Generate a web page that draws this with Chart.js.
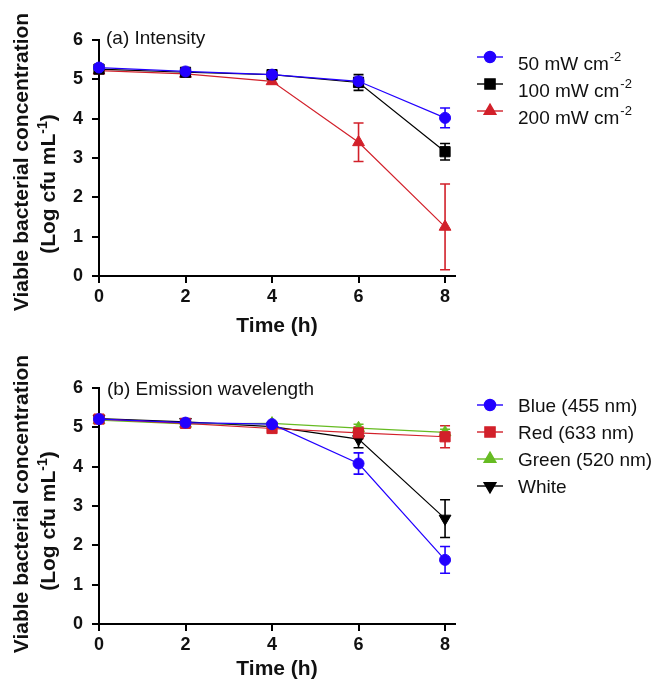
<!DOCTYPE html>
<html>
<head>
<meta charset="utf-8">
<script src="https://cdn.jsdelivr.net/npm/chart.js@4.4.1/dist/chart.umd.min.js"></script>
<style>
  html, body { margin: 0; padding: 0; background: #fff; }
  #wrap { position: relative; width: 658px; height: 680px; }
  canvas { position: absolute; left: 0; }
</style>
</head>
<body>
<div id="wrap">
  <canvas id="cA" width="658" height="348" style="top:0px"></canvas>
  <canvas id="cB" width="658" height="332" style="top:348px"></canvas>
</div>
<script>
// ---------------- DATA ----------------
const timeH = [0, 2, 4, 6, 8];
const xTickValues = [0, 2, 4, 6, 8];
const yTickValues = [0, 1, 2, 3, 4, 5, 6];

// Panel (a) Intensity
const intensityNames = ['50 mW cm', '100 mW cm', '200 mW cm'];
const intensitySup = '-2';
const int50 = [5.30, 5.20, 5.12, 4.95, 4.02];
const int50Err = [0.05, 0.04, 0.04, 0.10, 0.25];
const int100 = [5.26, 5.18, 5.12, 4.92, 3.16];
const int100Err = [0.05, 0.05, 0.05, 0.20, 0.21];
const int200 = [5.22, 5.14, 4.95, 3.40, 1.25];
const int200Err = [0.04, 0.05, 0.06, 0.49, 1.09];

// Panel (b) Emission wavelength
const waveNames = ['Blue (455 nm)', 'Red (633 nm)', 'Green (520 nm)', 'White'];
const waveBlue = [5.21, 5.12, 5.08, 4.08, 1.63];
const waveBlueErr = [0.05, 0.05, 0.05, 0.27, 0.34];
const waveRed = [5.21, 5.10, 4.97, 4.86, 4.76];
const waveRedErr = [0.05, 0.05, 0.07, 0.15, 0.28];
const waveGreen = [5.18, 5.09, 5.10, 4.98, 4.87];
const waveGreenErr = [0.04, 0.04, 0.04, 0.10, 0.08];
const waveWhite = [5.22, 5.14, 5.02, 4.70, 2.68];
const waveWhiteErr = [0.04, 0.04, 0.05, 0.22, 0.48];

// ---------------- STYLE ----------------
const FONT = "'Liberation Sans', Arial, Helvetica, sans-serif";
const BLUE = '#2200ff', BLACK = '#000000', RED = '#d2202a', GREEN = '#66bb22';

function ds(label, data, err, color, style, radius, rotation) {
  return {
    label, data: data.map((v, i) => ({ x: timeH[i], y: v })), err,
    borderColor: color, backgroundColor: color, borderWidth: 1.2,
    pointStyle: style, pointRadius: radius, pointRotation: rotation || 0,
    pointBorderWidth: 1, pointBackgroundColor: color, pointBorderColor: color,
    pointHoverRadius: radius, clip: false, tension: 0
  };
}

const decorPlugin = {
  id: 'decor',
  beforeDatasetsDraw(chart) {
    const ctx = chart.ctx, xs = chart.scales.x, ys = chart.scales.y;
    chart.data.datasets.forEach(d => {
      ctx.save();
      ctx.strokeStyle = d.borderColor; ctx.lineWidth = 1.6;
      d.data.forEach((p, j) => {
        const e = d.err[j];
        const x = xs.getPixelForValue(p.x);
        const yt = ys.getPixelForValue(p.y + e), yb = ys.getPixelForValue(p.y - e);
        ctx.beginPath();
        ctx.moveTo(x, yt); ctx.lineTo(x, yb);
        ctx.moveTo(x - 5, yt); ctx.lineTo(x + 5, yt);
        ctx.moveTo(x - 5, yb); ctx.lineTo(x + 5, yb);
        ctx.stroke();
      });
      ctx.restore();
    });
  },
  afterDraw(chart) {
    const o = chart.options.plugins.decor, ctx = chart.ctx, ca = chart.chartArea;
    ctx.save();
    ctx.fillStyle = '#111';
    // panel title
    ctx.font = '19px ' + FONT; ctx.textAlign = 'left'; ctx.textBaseline = 'alphabetic';
    ctx.fillText(o.title, o.titleX, o.titleY);
    // x title
    ctx.font = 'bold 21px ' + FONT; ctx.textAlign = 'center';
    ctx.fillText('Time (h)', (ca.left + ca.right) / 2, o.xTitleY);
    // y title, two lines
    ctx.save();
    ctx.translate(28, o.yLine1C); ctx.rotate(-Math.PI / 2);
    ctx.textAlign = 'center';
    ctx.fillText('Viable bacterial concentration', 0, 0);
    ctx.restore();
    ctx.save();
    ctx.translate(55, o.yLine2C); ctx.rotate(-Math.PI / 2);
    ctx.textAlign = 'left';
    const big = 'bold 21px ' + FONT, small = 'bold 14px ' + FONT;
    ctx.font = big; const w1 = ctx.measureText('(Log cfu mL').width;
    ctx.font = small; const w2 = ctx.measureText('-1').width;
    ctx.font = big; const w3 = ctx.measureText(')').width;
    let sx = -(w1 + w2 + w3) / 2;
    ctx.font = big; ctx.fillText('(Log cfu mL', sx, 0); sx += w1;
    ctx.font = small; ctx.fillText('-1', sx, -8); sx += w2;
    ctx.font = big; ctx.fillText(')', sx, 0);
    ctx.restore();
    // legend
    o.legend.forEach((it, k) => {
      const y = o.legendY[k];
      ctx.strokeStyle = it.color; ctx.fillStyle = it.color; ctx.lineWidth = 1.4;
      ctx.beginPath(); ctx.moveTo(477, y); ctx.lineTo(503, y); ctx.stroke();
      Chart.helpers.drawPoint(ctx, { pointStyle: it.style, radius: it.radius, rotation: it.rotation || 0, borderWidth: 1 }, 490, y);
      ctx.fillStyle = '#111'; ctx.textAlign = 'left';
      ctx.font = '19px ' + FONT;
      const ty = y + o.legendTextOff;
      ctx.fillText(it.text, 518, ty);
      if (it.sup) {
        const tw = ctx.measureText(it.text).width;
        ctx.font = '13px ' + FONT;
        ctx.fillText(it.sup, 518 + tw + 1, ty - 9);
      }
    });
    ctx.restore();
  }
};

function makePanel(id, datasets, canvasH, decor) {
  return new Chart(document.getElementById(id), {
    type: 'line',
    data: { datasets },
    options: {
      responsive: false, animation: false, events: [],
      layout: { padding: { left: 0, right: 203, top: 40, bottom: 0 } },
      plugins: { legend: { display: false }, tooltip: { enabled: false }, decor },
      scales: {
        x: {
          type: 'linear', min: 0, max: 8.23,
          afterFit: s => { s.height = canvasH - 276; },
          afterBuildTicks: s => { s.ticks = xTickValues.map(v => ({ value: v })); },
          grid: { display: true, drawOnChartArea: false, drawTicks: true, tickLength: 7, color: '#000', lineWidth: 2 },
          border: { display: true, color: '#000', width: 2 },
          ticks: { color: '#111', font: { family: FONT, size: 18, weight: 'bold' }, padding: 3, maxRotation: 0, autoSkip: false, callback: v => String(v) }
        },
        y: {
          type: 'linear', min: 0, max: 6,
          afterFit: s => { s.width = 99; },
          afterBuildTicks: s => { s.ticks = yTickValues.map(v => ({ value: v })); },
          grid: { display: true, drawOnChartArea: false, drawTicks: true, tickLength: 7, color: '#000', lineWidth: 2 },
          border: { display: true, color: '#000', width: 2 },
          ticks: { color: '#111', font: { family: FONT, size: 18, weight: 'bold' }, padding: 9, autoSkip: false, callback: v => String(v) }
        }
      }
    },
    plugins: [decorPlugin]
  });
}

makePanel('cA', [
  ds(intensityNames[0], int50, int50Err, BLUE, 'circle', 5.5),
  ds(intensityNames[1], int100, int100Err, BLACK, 'rect', 7.2),
  ds(intensityNames[2], int200, int200Err, RED, 'triangle', 6.8)
], 348, {
  title: '(a) Intensity', titleX: 106, titleY: 44, xTitleY: 332,
  yLine1C: 162, yLine2C: 184,
  legendY: [57, 84, 111], legendTextOff: 13,
  legend: [
    { text: intensityNames[0], sup: intensitySup, color: BLUE, style: 'circle', radius: 5.5 },
    { text: intensityNames[1], sup: intensitySup, color: BLACK, style: 'rect', radius: 7.2 },
    { text: intensityNames[2], sup: intensitySup, color: RED, style: 'triangle', radius: 6.8 }
  ]
});

makePanel('cB', [
  ds(waveNames[0], waveBlue, waveBlueErr, BLUE, 'circle', 5.5),
  ds(waveNames[1], waveRed, waveRedErr, RED, 'rect', 7.2),
  ds(waveNames[2], waveGreen, waveGreenErr, GREEN, 'triangle', 6.8),
  ds(waveNames[3], waveWhite, waveWhiteErr, BLACK, 'triangle', 6.8, 180)
], 332, {
  title: '(b) Emission wavelength', titleX: 107, titleY: 47, xTitleY: 327,
  yLine1C: 156, yLine2C: 173,
  legendY: [57, 84, 111, 138], legendTextOff: 7,
  legend: [
    { text: waveNames[0], color: BLUE, style: 'circle', radius: 5.5 },
    { text: waveNames[1], color: RED, style: 'rect', radius: 7.2 },
    { text: waveNames[2], color: GREEN, style: 'triangle', radius: 6.8 },
    { text: waveNames[3], color: BLACK, style: 'triangle', radius: 6.8, rotation: 180 }
  ]
});
</script>
</body>
</html>
